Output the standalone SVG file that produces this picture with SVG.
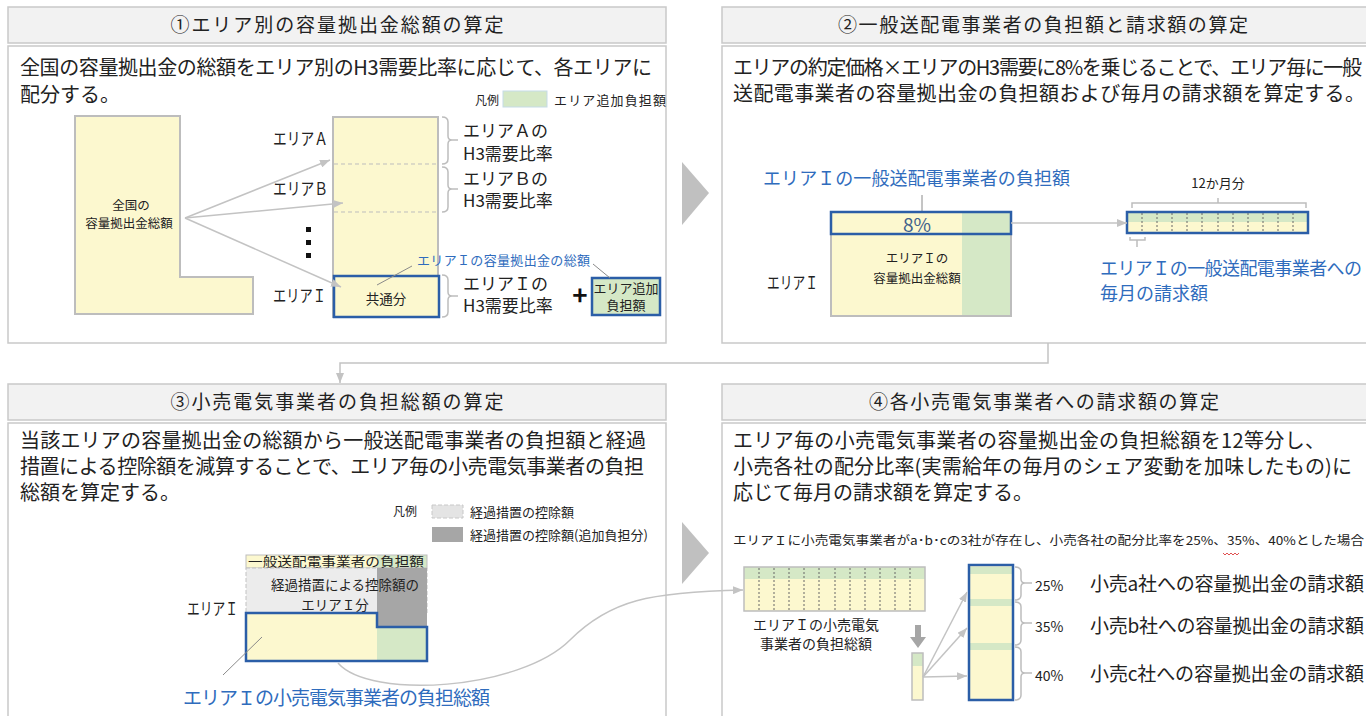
<svg xmlns="http://www.w3.org/2000/svg" width="1366" height="716" viewBox="0 0 1366 716">
<defs>
<style>
text{font-family:"Noto Sans CJK JP","Noto Sans",sans-serif;fill:#222}
.hdr{fill:#f2f2f2;stroke:#c9c9c9;stroke-width:1.5}
.body{fill:#fff;stroke:#c9c9c9;stroke-width:1.5}
.title{font-size:19px;text-anchor:middle}
.para{font-size:20px}
.yel{fill:#fcf8cf}
.grn{fill:#d5e8c6}
.gs{stroke:#bdbdbd;stroke-width:1.5;fill:none}
.bl{stroke:#2b5ea7;stroke-width:2.5;fill:none}
.bt{fill:#2f6cbd}
.conn{stroke:#c3c3c3;stroke-width:1.5;fill:none}
.div{stroke:#666;stroke-width:1;stroke-dasharray:2 2}
.sm{font-size:12.5px}
.mid{text-anchor:middle}
.lab{font-size:17px}
.rt{font-size:17px}
</style>
<marker id="ah" viewBox="0 0 10 8" refX="10" refY="4" markerWidth="10" markerHeight="8" markerUnits="userSpaceOnUse" orient="auto">
<path d="M0,0 L10,4 L0,8 z" fill="#c3c3c3"/>
</marker>
</defs>

<g id="chevrons" fill="#c0c0c0">
<polygon points="682,162 709,193 682,225"/>
<polygon points="682,522 709,553 682,584"/>
</g>

<g id="panel1">
<rect class="hdr" x="8" y="7" width="658" height="36"/>
<text class="title" x="337" y="32" textLength="333">①エリア別の容量拠出金総額の算定</text>
<rect class="body" x="8" y="46" width="658" height="297"/>
<text class="para" x="20" y="75" textLength="632">全国の容量拠出金の総額をエリア別のH3需要比率に応じて、各エリアに</text>
<text class="para" x="20" y="102">配分する。</text>
<text x="475" y="105" font-size="12">凡例</text>
<rect x="503" y="91" width="44" height="16" class="grn" stroke="#c5dbe8" stroke-width="1"/>
<text x="554" y="105" font-size="13" textLength="112">エリア追加負担額</text>
<path d="M75,116 H180 V277 H253 V314 H75 Z" class="yel" stroke="#bdbdbd" stroke-width="2"/>
<text x="131" y="210" class="sm mid">全国の</text>
<text x="129" y="228" class="sm mid">容量拠出金総額</text>
<rect x="333" y="117" width="105" height="200" class="yel" stroke="#bdbdbd" stroke-width="2"/>
<line x1="334" y1="164" x2="437" y2="164" stroke="#bdbdbd" stroke-dasharray="4 3"/>
<line x1="334" y1="212" x2="437" y2="212" stroke="#bdbdbd" stroke-dasharray="4 3"/>
<rect x="334" y="276" width="105" height="41" class="bl" style="fill:#fcf8cf"/>
<text x="386" y="304" font-size="13.5" class="mid">共通分</text>
<text x="273" y="145" class="lab" textLength="55" lengthAdjust="spacingAndGlyphs">エリアＡ</text>
<text x="273" y="195" class="lab" textLength="55" lengthAdjust="spacingAndGlyphs">エリアＢ</text>
<text x="273" y="302" class="lab" textLength="53" lengthAdjust="spacingAndGlyphs">エリアＩ</text>
<rect x="306" y="227" width="5" height="5" fill="#111"/>
<rect x="306" y="240" width="5" height="5" fill="#111"/>
<rect x="306" y="253" width="5" height="5" fill="#111"/>
<path class="gs" d="M442,117 Q448,117 448,122 V136 Q448,140 452,140 H458 M452,140 Q448,140 448,144 V159 Q448,164 442,164"/>
<path class="gs" d="M442,167 Q448,167 448,172 V185 Q448,189 452,189 H458 M452,189 Q448,189 448,193 V207 Q448,212 442,212"/>
<path class="gs" d="M442,275 Q448,275 448,280 V292 Q448,296 452,296 H458 M452,296 Q448,296 448,300 V312 Q448,317 442,317"/>
<text x="463" y="137" class="rt">エリアＡの</text>
<text x="463" y="160" class="rt">H3需要比率</text>
<text x="463" y="185" class="rt">エリアＢの</text>
<text x="463" y="207" class="rt">H3需要比率</text>
<text x="463" y="290" class="rt">エリアＩの</text>
<text x="463" y="312" class="rt">H3需要比率</text>
<text x="580" y="305" font-size="26" font-weight="bold" class="mid" style="fill:#111">+</text>
<rect x="592" y="278" width="68" height="37" class="bl" style="fill:#d5e8c6"/>
<text x="626" y="293" font-size="13" class="mid">エリア追加</text>
<text x="626" y="310" font-size="13" class="mid">負担額</text>
<text x="417" y="265" font-size="13" class="bt" textLength="173">エリアＩの容量拠出金の総額</text>
<line x1="412" y1="266" x2="377" y2="285" stroke="#8a8a8a" stroke-width="1"/>
<line x1="593" y1="264" x2="610" y2="278" stroke="#8a8a8a" stroke-width="1"/>
</g>

<g id="panel2">
<rect class="hdr" x="722" y="7" width="652" height="36"/>
<text class="title" x="1043" y="32" textLength="410">②一般送配電事業者の負担額と請求額の算定</text>
<rect class="body" x="722" y="46" width="652" height="297"/>
<text class="para" x="733" y="75" textLength="629">エリアの約定価格×エリアのH3需要に8%を乗じることで、エリア毎に一般</text>
<text class="para" x="733" y="101" textLength="632">送配電事業者の容量拠出金の負担額および毎月の請求額を算定する。</text>
<text x="763" y="185" font-size="18" class="bt" textLength="307">エリアＩの一般送配電事業者の負担額</text>
<line x1="922" y1="195" x2="922" y2="212" stroke="#8a8a8a" stroke-width="1"/>
<rect x="831" y="212" width="131" height="104" class="yel"/>
<rect x="962" y="212" width="49" height="104" class="grn"/>
<rect x="831" y="212" width="180" height="104" fill="none" stroke="#bdbdbd" stroke-width="2"/>
<rect x="831" y="212" width="180" height="22" class="bl"/>
<text x="917" y="232" font-size="19" class="mid" style="fill:#41628c">8%</text>
<text x="917" y="263" class="sm mid">エリアＩの</text>
<text x="917" y="283" class="sm mid">容量拠出金総額</text>
<text x="767" y="289" class="lab" textLength="51" lengthAdjust="spacingAndGlyphs">エリアＩ</text>
<text x="1218" y="188" font-size="13" class="mid">12か月分</text>
<path class="gs" d="M1132,208 V203 H1306 V208 M1218,203 V198"/>
<rect x="1127" y="212" width="181" height="10" class="grn"/>
<rect x="1127" y="222" width="181" height="11" class="yel"/>
<g class="div">
<line x1="1142" y1="213" x2="1142" y2="232"/><line x1="1157" y1="213" x2="1157" y2="232"/><line x1="1172" y1="213" x2="1172" y2="232"/><line x1="1187" y1="213" x2="1187" y2="232"/><line x1="1202" y1="213" x2="1202" y2="232"/><line x1="1218" y1="213" x2="1218" y2="232"/><line x1="1233" y1="213" x2="1233" y2="232"/><line x1="1248" y1="213" x2="1248" y2="232"/><line x1="1263" y1="213" x2="1263" y2="232"/><line x1="1278" y1="213" x2="1278" y2="232"/><line x1="1293" y1="213" x2="1293" y2="232"/>
</g>
<rect x="1127" y="212" width="181" height="21" class="bl"/>
<path class="gs" d="M1130,237 V240 H1145 V237 M1137,240 V247"/>
<text x="1100" y="275" font-size="18" class="bt" textLength="262">エリアＩの一般送配電事業者への</text>
<text x="1100" y="300" font-size="18" class="bt">毎月の請求額</text>
</g>

<g id="panel3">
<rect class="hdr" x="8" y="384" width="658" height="36"/>
<text class="title" x="337" y="409" textLength="333">③小売電気事業者の負担総額の算定</text>
<rect class="body" x="8" y="423" width="658" height="300"/>
<text class="para" x="20" y="448" textLength="626">当該エリアの容量拠出金の総額から一般送配電事業者の負担額と経過</text>
<text class="para" x="20" y="474" textLength="624">措置による控除額を減算することで、エリア毎の小売電気事業者の負担</text>
<text class="para" x="20" y="500">総額を算定する。</text>
<text x="393" y="516" font-size="12">凡例</text>
<rect x="432" y="505" width="31" height="13" fill="#e4e4e4" stroke="#c8c8c8" stroke-dasharray="4 2"/>
<text x="470" y="517" font-size="13">経過措置の控除額</text>
<rect x="432" y="527" width="31" height="15" fill="#a6a6a6"/>
<text x="470" y="540" font-size="13">経過措置の控除額(追加負担分)</text>
<rect x="246" y="555" width="131" height="13" class="yel"/>
<rect x="377" y="555" width="50" height="13" class="grn"/>
<rect x="246" y="555" width="181" height="13" fill="none" stroke="#bdbdbd" stroke-width="1"/>
<text x="248" y="566" font-size="13" textLength="176" lengthAdjust="spacingAndGlyphs">一般送配電事業者の負担額</text>
<rect x="246" y="568" width="181" height="45" fill="#ececec" stroke="#c2c2c2" stroke-dasharray="4 2"/>
<rect x="377" y="568" width="50" height="59" fill="#a6a6a6"/>
<text x="345" y="590" font-size="13.5" class="mid">経過措置による控除額の</text>
<text x="335" y="610" font-size="13.5" class="mid">エリアＩ分</text>
<rect x="246" y="613" width="131" height="48" class="yel"/>
<rect x="377" y="627" width="50" height="34" class="grn"/>
<path class="bl" d="M246,613 H377 V627 H427 V661 H246 Z"/>
<text x="187" y="615" class="lab" textLength="51" lengthAdjust="spacingAndGlyphs">エリアＩ</text>
<line x1="262" y1="637" x2="223" y2="675" stroke="#8a8a8a" stroke-width="1"/>
<text x="183" y="705" font-size="19" class="bt" textLength="307">エリアＩの小売電気事業者の負担総額</text>
</g>

<g id="panel4">
<rect class="hdr" x="722" y="384" width="652" height="36"/>
<text class="title" x="1044" y="409" textLength="350">④各小売電気事業者への請求額の算定</text>
<rect class="body" x="722" y="423" width="652" height="300"/>
<text class="para" x="733" y="448" textLength="592">エリア毎の小売電気事業者の容量拠出金の負担総額を12等分し、</text>
<text class="para" x="733" y="474" textLength="619">小売各社の配分比率(実需給年の毎月のシェア変動を加味したもの)に</text>
<text class="para" x="733" y="500">応じて毎月の請求額を算定する。</text>
<text x="733" y="545" font-size="12" textLength="631" lengthAdjust="spacingAndGlyphs">エリアＩに小売電気事業者がa･b･cの3社が存在し、小売各社の配分比率を25%、35%、40%とした場合</text>
<path d="M1223,553 l2,2 l2,-2 l2,2 l2,-2 l2,2 l2,-2 l2,2 l2,-2" fill="none" stroke="#e05050" stroke-width="1"/>
<rect x="744" y="567" width="181" height="12" class="grn"/>
<rect x="744" y="579" width="181" height="32" class="yel"/>
<g class="div">
<line x1="759" y1="568" x2="759" y2="610"/><line x1="774" y1="568" x2="774" y2="610"/><line x1="789" y1="568" x2="789" y2="610"/><line x1="804" y1="568" x2="804" y2="610"/><line x1="819" y1="568" x2="819" y2="610"/><line x1="835" y1="568" x2="835" y2="610"/><line x1="850" y1="568" x2="850" y2="610"/><line x1="865" y1="568" x2="865" y2="610"/><line x1="880" y1="568" x2="880" y2="610"/><line x1="895" y1="568" x2="895" y2="610"/><line x1="910" y1="568" x2="910" y2="610"/>
</g>
<rect x="744" y="567" width="181" height="44" fill="none" stroke="#bdbdbd" stroke-width="1.5"/>
<text x="816" y="630" font-size="14" class="mid">エリアＩの小売電気</text>
<text x="816" y="649" font-size="14" class="mid">事業者の負担総額</text>
<polygon points="915,625 921,625 921,637 926,637 918,648 910,637 915,637" fill="#a6a6a6"/>
<rect x="912" y="653" width="11" height="13" class="grn"/>
<rect x="912" y="666" width="11" height="34" class="yel"/>
<rect x="912" y="653" width="11" height="47" fill="none" stroke="#bdbdbd" stroke-width="1.5"/>
<rect x="969" y="565" width="44" height="135" class="yel"/>
<rect x="969" y="567" width="44" height="7" class="grn"/>
<rect x="969" y="599" width="44" height="7" class="grn"/>
<rect x="969" y="643" width="44" height="7" class="grn"/>
<rect x="969" y="565" width="44" height="135" class="bl"/>
<path class="gs" d="M1015,567 Q1021,567 1021,572 V579 Q1021,583 1025,583 H1032 M1025,583 Q1021,583 1021,587 V595 Q1021,600 1015,600"/>
<path class="gs" d="M1015,602 Q1021,602 1021,607 V619 Q1021,623 1025,623 H1032 M1025,623 Q1021,623 1021,627 V640 Q1021,645 1015,645"/>
<path class="gs" d="M1015,647 Q1021,647 1021,652 V669 Q1021,673 1025,673 H1032 M1025,673 Q1021,673 1021,677 V695 Q1021,700 1015,700"/>
<text x="1035" y="591" font-size="14">25%</text>
<text x="1035" y="632" font-size="14">35%</text>
<text x="1035" y="681" font-size="14">40%</text>
<text x="1090" y="591" font-size="19" textLength="274">小売a社への容量拠出金の請求額</text>
<text x="1090" y="633" font-size="19" textLength="274">小売b社への容量拠出金の請求額</text>
<text x="1090" y="681" font-size="19" textLength="274">小売c社への容量拠出金の請求額</text>
</g>

<g id="connectors">
<line class="conn" x1="185" y1="218" x2="330" y2="160" marker-end="url(#ah)"/>
<line class="conn" x1="185" y1="218" x2="343" y2="203" marker-end="url(#ah)"/>
<line class="conn" x1="185" y1="218" x2="341" y2="287" marker-end="url(#ah)"/>
<line class="conn" x1="1011" y1="223" x2="1127" y2="223" marker-end="url(#ah)"/>
<path class="conn" d="M1048,343 V363 H340 V383" marker-end="url(#ah)"/>
<path class="conn" d="M338,663 C370,700 520,690 570,640 C610,600 650,592 743,590" marker-end="url(#ah)"/>
<line class="conn" x1="923" y1="677" x2="967" y2="592" marker-end="url(#ah)"/>
<line class="conn" x1="923" y1="677" x2="967" y2="628" marker-end="url(#ah)"/>
<line class="conn" x1="923" y1="677" x2="967" y2="676" marker-end="url(#ah)"/>
</g>
</svg>
